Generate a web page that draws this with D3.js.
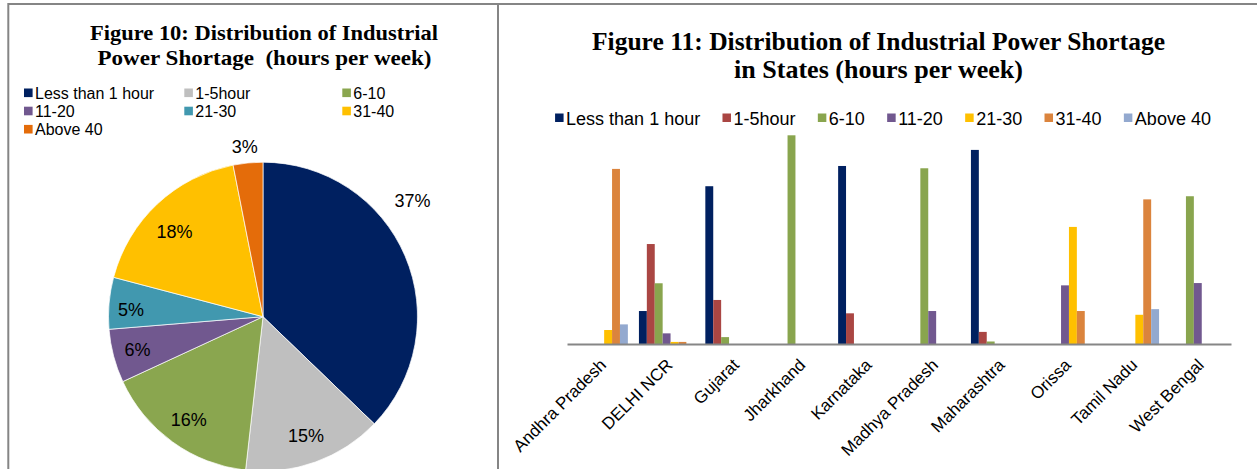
<!DOCTYPE html>
<html>
<head>
<meta charset="utf-8">
<script src="https://cdn.jsdelivr.net/npm/d3@7"></script>
<style>
  html, body { margin: 0; padding: 0; background: #ffffff; }
  svg { display: block; }
</style>
</head>
<body>
<svg id="chart" width="1257" height="469"></svg>
<script>
// ---------------- DATA ----------------
const pieCategories = ["Less than 1 hour", "1-5hour", "6-10", "11-20", "21-30", "31-40", "Above 40"];
const pieValues = [37.2, 14.6, 16.3, 5.6, 5.4, 17.8, 3.1];
const pieColors = ["#002060", "#BFBFBF", "#8AA64F", "#71588F", "#4198AF", "#FFC000", "#E46C0A"];

const states = ["Andhra Pradesh", "DELHI NCR", "Gujarat", "Jharkhand", "Karnataka",
                "Madhya Pradesh", "Maharashtra", "Orissa", "Tamil Nadu", "West Bengal"];
const barSeries = ["Less than 1 hour", "1-5hour", "6-10", "11-20", "21-30", "31-40", "Above 40"];
const barColors = ["#002060", "#AA4643", "#89A54E", "#71588F", "#FFC000", "#DB843D", "#93A9CF"];

const lessThan1 = [0, 15.8, 75.6, 0, 85.3, 0, 93.0, 0, 0, 0];
const hours1to5 = [0, 47.9, 21.1, 0, 14.7, 0, 5.8, 0, 0, 0];
const hours6to10 = [0, 29.1, 3.3, 100, 0, 84.2, 1.2, 0, 0, 70.8];
const hours11to20 = [0, 5.1, 0, 0, 0, 15.8, 0, 28.1, 0, 29.2];
const hours21to30 = [6.7, 1.0, 0, 0, 0, 0, 0, 56.1, 14.0, 0];
const hours31to40 = [83.9, 1.0, 0, 0, 0, 0, 0, 15.8, 69.3, 0];
const above40 = [9.4, 0, 0, 0, 0, 0, 0, 0, 16.7, 0];
const seriesValues = [lessThan1, hours1to5, hours6to10, hours11to20, hours21to30, hours31to40, above40];

const pieTitle = ["Figure 10: Distribution of Industrial", "Power Shortage  (hours per week)"];
const barTitle = ["Figure 11: Distribution of Industrial Power Shortage", "in States (hours per week)"];

// ---------------- SETUP ----------------
const svg = d3.select("#chart");
const sans = "'Liberation Sans', Arial, sans-serif";
const serif = "'Liberation Serif', 'Times New Roman', serif";
const frameColor = "#858585";

// Frames
svg.append("line").attr("x1", 8).attr("x2", 1257).attr("y1", 4).attr("y2", 4)
  .attr("stroke", frameColor).attr("stroke-width", 2);
svg.append("line").attr("x1", 8.3).attr("x2", 8.3).attr("y1", 3).attr("y2", 469)
  .attr("stroke", frameColor).attr("stroke-width", 2);
svg.append("line").attr("x1", 498).attr("x2", 498).attr("y1", 3).attr("y2", 469)
  .attr("stroke", frameColor).attr("stroke-width", 2);

// ---------------- PIE (Figure 10) ----------------
const pieG = svg.append("g");
const titleSpecs1 = [
  {text: pieTitle[0], x: 264, y: 40, w: 348},
  {text: pieTitle[1], x: 264.5, y: 64.5, w: 334}
];
titleSpecs1.forEach(t => {
  pieG.append("text").attr("x", t.x).attr("y", t.y)
    .attr("text-anchor", "middle")
    .attr("font-family", serif).attr("font-weight", "bold").attr("font-size", 22)
    .style("white-space", "pre")
    .attr("textLength", t.w).attr("lengthAdjust", "spacingAndGlyphs")
    .attr("fill", "#000").text(t.text);
});

// Pie legend (3 columns)
const legCols = [24, 184.3, 342.3];
const legRows = [98.7, 116.9, 135.1];
pieCategories.forEach((c, i) => {
  const col = i % 3, row = Math.floor(i / 3);
  pieG.append("rect").attr("x", legCols[col]).attr("y", legRows[row] - 10.2)
    .attr("width", 8.6).attr("height", 8.6).attr("fill", pieColors[i]);
  pieG.append("text").attr("x", legCols[col] + 11).attr("y", legRows[row])
    .attr("font-family", sans).attr("font-size", 16).attr("fill", "#000").text(c);
});

const cx = 263, cy = 316.7, R = 154.5;
const pie = d3.pie().sort(null).value(d => d)(pieValues);
const arc = d3.arc().innerRadius(0).outerRadius(R);
const pg = pieG.append("g").attr("transform", `translate(${cx},${cy})`);
pg.selectAll("path.slice").data(pie).join("path")
  .attr("class", "slice")
  .attr("d", arc)
  .attr("fill", (d, i) => pieColors[i])
  .attr("stroke", "#ffffff").attr("stroke-width", 0.7);

// label placement: radius factor and angle fraction within slice
const labelRadius = [1.225, 0.82, 0.82, 0.84, 0.855, 0.795, 1.105];
const labelFrac = [0.39, 0.5, 0.5, 0.5, 0.39, 0.455, 0.45];
const fmt = d3.format(".0f");
pg.selectAll("text.plabel").data(pie).join("text")
  .attr("class", "plabel")
  .attr("transform", (d, i) => {
    const a = d.startAngle + (d.endAngle - d.startAngle) * labelFrac[i];
    const r = R * labelRadius[i];
    return `translate(${r * Math.sin(a)},${-r * Math.cos(a)})`;
  })
  .attr("text-anchor", "middle").attr("dy", "0.36em")
  .attr("font-family", sans).attr("font-size", 18).attr("fill", "#000")
  .text(d => fmt(d.value) + "%");

// ---------------- BARS (Figure 11) ----------------
const barG = svg.append("g");
const titleSpecs2 = [
  {text: barTitle[0], x: 878.5, y: 49.5, w: 573},
  {text: barTitle[1], x: 878.5, y: 78, w: 289}
];
titleSpecs2.forEach(t => {
  barG.append("text").attr("x", t.x).attr("y", t.y)
    .attr("text-anchor", "middle")
    .attr("font-family", serif).attr("font-weight", "bold").attr("font-size", 25.5)
    .attr("textLength", t.w).attr("lengthAdjust", "spacingAndGlyphs")
    .attr("fill", "#000").text(t.text);
});

// Legend (single row, centered)
const legG = barG.append("g");
let lx = 0;
const legGap = 22.3;
barSeries.forEach((s, i) => {
  const item = legG.append("g").attr("transform", `translate(${lx},0)`);
  item.append("rect").attr("x", 0).attr("y", 113.5).attr("width", 8.5).attr("height", 8.5)
    .attr("fill", barColors[i]);
  const t = item.append("text").attr("x", 11).attr("y", 124.5)
    .attr("font-family", sans).attr("font-size", 18).attr("fill", "#000").text(s);
  lx += 11 + t.node().getComputedTextLength() + legGap;
});
const legW = lx - legGap;
legG.attr("transform", `translate(${883 - legW / 2},0)`);

const x0 = d3.scaleBand().domain(states).range([567, 1231]).paddingInner(0).paddingOuter(0);
const x1 = d3.scaleBand().domain(barSeries).range([0, x0.bandwidth()]).paddingInner(0).paddingOuter(0.7);
const y = d3.scaleLinear().domain([0, 100]).range([344, 135.3]);

const groups = barG.append("g").selectAll("g").data(states).join("g")
  .attr("transform", d => `translate(${x0(d)},0)`);
groups.selectAll("rect").data((d, si) => barSeries.map((s, k) => ({s, k, v: seriesValues[k][si]})).filter(e => e.v > 0))
  .join("rect")
  .attr("x", e => x1(e.s))
  .attr("y", e => y(e.v))
  .attr("width", x1.bandwidth())
  .attr("height", e => y(0) - y(e.v))
  .attr("fill", e => barColors[e.k]);

// Axis
const axis = d3.axisBottom(x0).tickSize(0).tickSizeOuter(0);
const ax = barG.append("g").attr("transform", `translate(0,${y(0)})`).call(axis);
ax.select(".domain").attr("stroke", "#868686").attr("stroke-width", 2);
ax.selectAll(".tick text")
  .attr("x", 0).attr("y", 0).attr("dy", 0)
  .attr("text-anchor", "end")
  .attr("font-family", sans).attr("font-size", 17).attr("fill", "#000")
  .attr("transform", "translate(7,22) rotate(-45)");
</script>
</body>
</html>
